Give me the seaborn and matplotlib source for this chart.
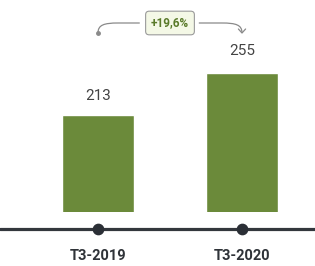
import matplotlib
matplotlib.use("Agg")
import matplotlib.pyplot as plt
import seaborn as sns
import pandas as pd
from matplotlib.path import Path
from matplotlib.patches import PathPatch

categories = ["T3-2019", "T3-2020"]
values = [213, 255]
growth_label = "+19,6%"

sns.set_style("white")
plt.rcParams["font.family"] = ["Roboto", "DejaVu Sans"]

df = pd.DataFrame({"period": categories, "value": values})

fig = plt.figure(figsize=(3.15, 2.66), dpi=100)
ax = fig.add_axes([0, 54 / 266, 1, 212 / 266])
sns.barplot(data=df, x="period", y="value", color="#6b8a3a", saturation=1,
            width=0.5, ax=ax)
ax.set_xlim(-98 / 144, (315 - 98) / 144)
ax.set_ylim(116, 328)
for sp in ax.spines.values():
    sp.set_visible(False)
ax.set_yticks([])
ax.set_xlabel("")
ax.set_ylabel("")
ax.tick_params(axis="x", length=0, pad=27)
for lbl in ax.get_xticklabels():
    lbl.set_fontweight("bold")
    lbl.set_fontsize(10.5)
    lbl.set_color("#2f3338")

# baseline timeline with dots
xl = ax.get_xlim()
ax.plot(xl, [99, 99], color="#33373d", lw=2.3, clip_on=False, zorder=3)
ax.scatter(range(len(categories)), [99] * len(categories), s=55,
           color="#2b2f36", zorder=4, clip_on=False)

# value labels
for i, v in enumerate(values):
    ax.text(i, v + 19 + (v - values[0]) * 0.06, str(v), ha="center",
            va="center", fontsize=11, color="#444444")

# growth bracket
yb, yt = 295, 305
verts = [(0, yb), (0, yt - 2), (0.04, yt), (0.14, yt), (0.29, yt)]
codes = [Path.MOVETO, Path.CURVE4, Path.CURVE4, Path.CURVE4, Path.LINETO]
ax.add_patch(PathPatch(Path(verts, codes), fill=False, ec="#8a8a8a", lw=0.9))
verts = [(0.70, yt), (0.86, yt), (0.96, yt), (1.0, yt - 2), (1.0, yb)]
codes = [Path.MOVETO, Path.LINETO, Path.CURVE4, Path.CURVE4, Path.CURVE4]
ax.add_patch(PathPatch(Path(verts, codes), fill=False, ec="#8a8a8a", lw=0.9))
ax.plot([0.975, 1.0, 1.025], [299, 295, 299], color="#8a8a8a", lw=0.9)
ax.plot([0], [yb], marker="o", ms=2.5, color="#8a8a8a")
ax.text(0.5, yt, growth_label, ha="center", va="center", fontsize=8.5,
        fontweight="bold", color="#5a7a2a",
        bbox=dict(boxstyle="round,pad=0.45,rounding_size=0.3", fc="#f4f8e6",
                  ec="#9a9a9a", lw=0.8))

fig.savefig("out.png", dpi=100)
